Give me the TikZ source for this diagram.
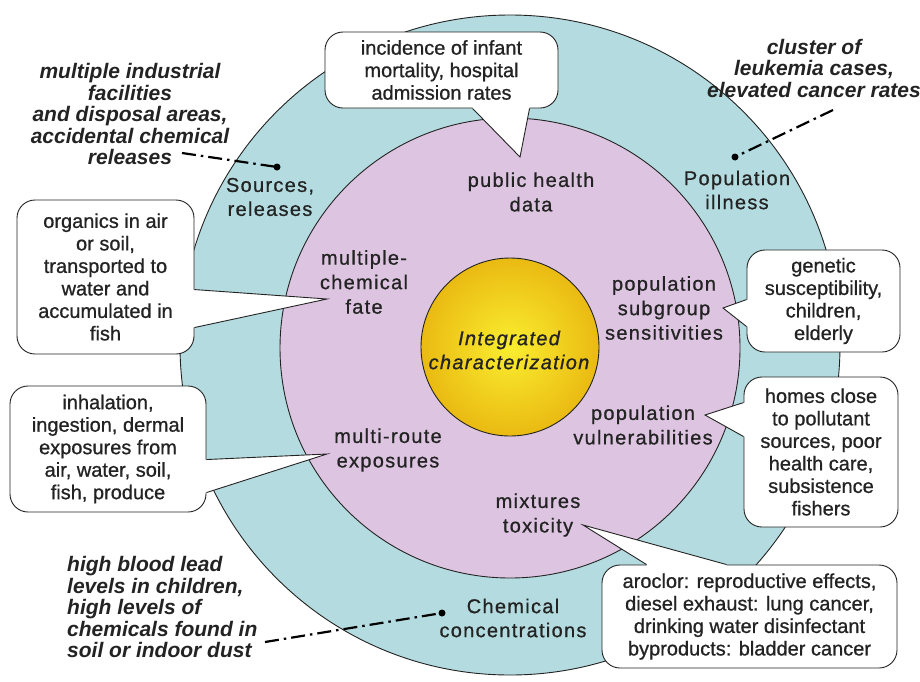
\documentclass[tikz,border=0pt]{standalone}
\usepackage{fontspec}
\setmainfont{Liberation Sans}
\newfontfamily\labelfont{Liberation Sans}[LetterSpace=6.5, FakeBold=0.8]
\newfontfamily\notefont{Liberation Sans}[FakeBold=0.8]
\usetikzlibrary{calc}
\definecolor{ringblue}{RGB}{180,220,224}
\definecolor{ringlilac}{RGB}{221,197,225}
\definecolor{coreyellow}{RGB}{250,238,48}
\definecolor{coregold}{RGB}{234,186,18}
\definecolor{inkgray}{RGB}{35,35,35}

% white wedge joining a note box to the point it refers to:
% #1,#2 base points on the box edge, #3 tip, #4 small shift into the box
\newcommand{\pointertip}[4]{%
  \fill[white] ($(#1)+#4$) -- (#1) -- (#3) -- (#2) -- ($(#2)+#4$) -- cycle;
  \draw[pointer] (#1) -- (#3) -- (#2);
}

\begin{document}
\begin{tikzpicture}[x=1pt,y=-1pt,
  ring/.style={draw=inkgray, line width=0.9pt},
  ringlabel/.style={align=center, font=\labelfont\fontsize{20}{24}\selectfont, text=inkgray, inner sep=0},
  innerlabel/.style={align=center, font=\labelfont\fontsize{20}{24.5}\selectfont, text=inkgray, inner sep=0},
  notebox/.style={draw=inkgray, fill=white, line width=0.9pt, rounded corners=18pt,
    align=center, inner sep=0, font=\notefont\fontsize{20}{22.5}\selectfont, text=inkgray},
  evidence/.style={align=center, font=\fontsize{21}{21.5}\selectfont\bfseries\itshape,
    text=inkgray, inner sep=0},
  linker/.style={line width=2.2pt, dash pattern=on 14pt off 5pt on 2.5pt off 5pt},
  pin/.style={circle, fill=black, inner sep=0, minimum size=7pt},
  pointer/.style={draw=inkgray, line width=0.9pt, line join=miter},
]
\useasboundingbox (0,0) rectangle (920,681);
\fill[white] (0,0) rectangle (920,681);

% concentric rings
\draw[ring, fill=ringblue] (510,345) circle[radius=330];
\draw[ring, fill=ringlilac] (510,348) circle[radius=230];
\shade[inner color=coreyellow, outer color=coregold] (510,347) circle[radius=89];
\draw[ring] (510,347) circle[radius=89];
\node[align=center, inner sep=0, font=\labelfont\itshape\fontsize{20}{24}\selectfont, text=inkgray]
  (core) at (509,350) {Integrated\\characterization};

% outer ring labels
\node[ringlabel] (sources) at (270,197) {Sources,\\releases};
\node[ringlabel] (illness) at (737,190) {Population\\illness};
\node[ringlabel] (conc) at (513,618) {Chemical\\concentrations};

% inner ring labels
\node[innerlabel] (health) at (531,192) {public health\\data};
\node[innerlabel] (fate) at (364,282) {multiple-\\chemical\\fate};
\node[innerlabel] (subgroup) at (664,308) {population\\subgroup\\sensitivities};
\node[innerlabel] (vulner) at (643,425) {population\\vulnerabilities};
\node[innerlabel] (routes) at (388,450) {multi-route\\exposures};
\node[innerlabel] (mixtox) at (538,515) {mixtures\\toxicity};

% note boxes
\node[notebox, minimum width=233pt, minimum height=76pt] (b1) at (441.5,70)
  {incidence of infant\\mortality, hospital\\admission rates};
\node[notebox, minimum width=177pt, minimum height=154pt] (b2) at (105.5,277)
  {organics in air\\or soil,\\transported to\\water and\\accumulated in\\fish};
\node[notebox, minimum width=196pt, minimum height=126pt] (b3) at (108,449)
  {inhalation,\\ingestion, dermal\\exposures from\\air, water, soil,\\fish, produce};
\node[notebox, minimum width=153pt, minimum height=102pt] (b4) at (823.5,301)
  {genetic\\susceptibility,\\children,\\elderly};
\node[notebox, minimum width=154pt, minimum height=150pt] (b5) at (821,452)
  {homes close\\to pollutant\\sources, poor\\health care,\\subsistence\\fishers};
\node[notebox, minimum width=295pt, minimum height=103pt] (b6) at (749.5,616.5)
  {aroclor: reproductive effects,\\diesel exhaust: lung cancer,\\drinking water disinfectant\\byproducts: bladder cancer};

% wedge tips
\coordinate (t1) at (520,157);
\coordinate (t2) at (327,299);
\coordinate (t3) at (327,454);
\coordinate (t4) at (723,308);
\coordinate (t5) at (705,415);
\coordinate (t6) at (583,525);

\coordinate (p1a) at ($(b1.south west)+(148,0)$);
\coordinate (p1b) at ($(b1.south west)+(205,0)$);
\coordinate (p2a) at ($(b2.north east)+(0,90)$);
\coordinate (p2b) at ($(b2.north east)+(0,128)$);
\coordinate (p3a) at ($(b3.north east)+(0,74)$);
\coordinate (p3b) at ($(b3.north east)+(0,107)$);
\coordinate (p4a) at ($(b4.north west)+(0,50)$);
\coordinate (p4b) at ($(b4.north west)+(0,77)$);
\coordinate (p5a) at ($(b5.north west)+(0,26)$);
\coordinate (p5b) at ($(b5.north west)+(0,60)$);
\coordinate (p6a) at ($(b6.north west)+(45,0)$);
\coordinate (p6b) at ($(b6.north west)+(125,0)$);

\pointertip{p1a}{p1b}{t1}{(0,-1.5)}
\pointertip{p2a}{p2b}{t2}{(-1.5,0)}
\pointertip{p3a}{p3b}{t3}{(-1.5,0)}
\pointertip{p4a}{p4b}{t4}{(1.5,0)}
\pointertip{p5a}{p5b}{t5}{(1.5,0)}
\pointertip{p6a}{p6b}{t6}{(0,1.5)}

% evidence notes with dash-dot leaders
\node[evidence] (srcnote) at (130,114)
  {multiple industrial\\facilities\\and disposal areas,\\accidental chemical\\releases};
\node[evidence] (illnote) at (814,68)
  {cluster of\\leukemia cases,\\elevated cancer rates};
\node[evidence, align=left, anchor=west] (chemnote) at (67,607)
  {high blood lead\\levels in children,\\high levels of\\chemicals found in\\soil or indoor dust};

\coordinate (srcnote-end) at (182,153);
\coordinate (illnote-end) at (833,110);
\coordinate (chemnote-end) at (265,642);
\node[pin] (srcpin) at (277,167) {};
\node[pin] (illpin) at (735,157) {};
\node[pin] (chempin) at (442,613) {};

\draw[linker] (srcnote-end) -- (srcpin.center);
\draw[linker] (illnote-end) -- (illpin.center);
\draw[linker] (chemnote-end) -- (chempin.center);
\end{tikzpicture}
\end{document}
